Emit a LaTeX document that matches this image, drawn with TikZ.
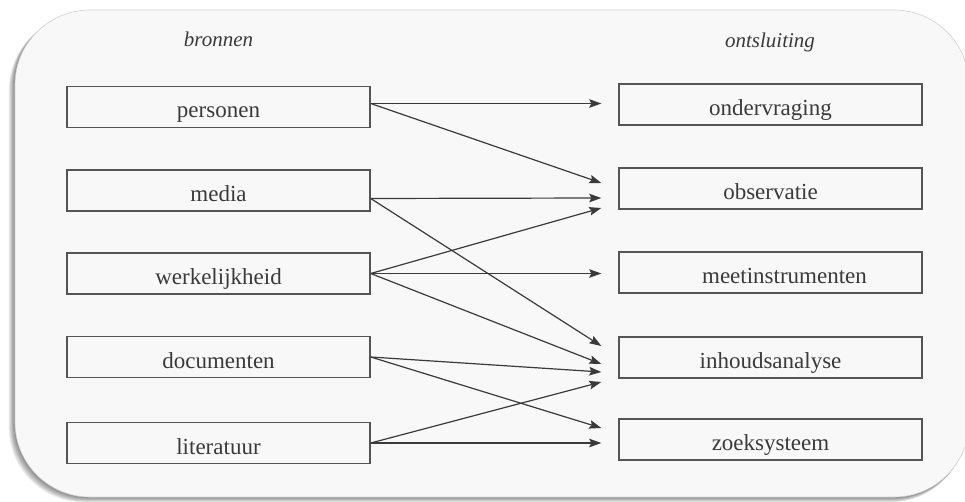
\documentclass[tikz,border=0pt]{standalone}
\usepackage{fontspec}
\setmainfont{Liberation Serif}
\usetikzlibrary{arrows.meta,calc}

\definecolor{panelfill}{HTML}{F8F8F8}
\definecolor{ink}{HTML}{3A3A3A}
\definecolor{boxline}{HTML}{555555}

\tikzset{
  srcbox/.style={draw=boxline, line width=1.4pt, minimum width=303pt, minimum height=41pt,
                 inner sep=0pt, text height=24pt, text depth=2pt,
                 text=ink, font=\fontsize{23}{27}\selectfont},
  headlabel/.style={text=ink, font=\fontsize{21}{25}\selectfont\itshape, inner sep=0pt},
  flow/.style={draw=ink, line width=1.2pt,
               -{Stealth[length=12pt,width=8.5pt,inset=2pt]}},
}

\begin{document}
\begin{tikzpicture}[x=1pt,y=-1pt]
  \useasboundingbox (0,0) rectangle (965,502);
  \fill[white] (0,0) rectangle (965,502);

  % soft shadow under the panel, offset to the lower left
  \foreach \k in {1,...,9}{
    \fill[black, opacity=0.06, rounded corners=75pt]
      ({15-0.7*\k},{10+0.6*\k}) rectangle ({969-0.4*\k},{497+0.6*\k});
  }
  % panel
  \fill[panelfill, rounded corners=75pt] (15,10) rectangle (969,497);
  \draw[gray!35, line width=0.6pt, rounded corners=75pt] (15,10) rectangle (969,497);

  % column headings
  \node[headlabel] (hsrc) at (218.5,39) {bronnen};
  \node[headlabel] (hout) at (770,42) {ontsluiting};

  % sources
  \node[srcbox] (per) at (218.5,107) {personen};
  \node[srcbox] (med) at (218.5,190.5) {media};
  \node[srcbox] (wer) at (218.5,273.5) {werkelijkheid};
  \node[srcbox] (doc) at (218.5,357) {documenten};
  \node[srcbox] (lit) at (218.5,443) {literatuur};

  % access methods
  \node[srcbox] (ond) at (770.5,104.5) {ondervraging};
  \node[srcbox] (obs) at (770.5,188.5) {observatie};
  \node[srcbox] (mee) at (770.5,272.5) {\hspace*{28pt}meetinstrumenten};
  \node[srcbox] (inh) at (770.5,357.5) {inhoudsanalyse};
  \node[srcbox] (zoe) at (770.5,439.5) {zoeksysteem};

  % start points on the right edges of the sources
  \coordinate (sPer) at ($(per.east)+(0,-3.5)$);
  \coordinate (sMed) at ($(med.east)+(0,8)$);
  \coordinate (sWer) at ($(wer.east)+(0,0)$);
  \coordinate (sDoc) at ($(doc.east)+(0,0)$);
  \coordinate (sLit) at ($(lit.east)+(0,0)$);

  % end points just before the access methods
  \coordinate (eOnd)  at ($(ond.west)+(-17,-1)$);
  \coordinate (eObs1) at ($(obs.west)+(-17,-5.5)$);
  \coordinate (eObs2) at ($(obs.west)+(-17,9.5)$);
  \coordinate (eObs3) at ($(obs.west)+(-17,19.5)$);
  \coordinate (eMee)  at ($(mee.west)+(-17,1)$);
  \coordinate (eInh1) at ($(inh.west)+(-17,-11.5)$);
  \coordinate (eInh2) at ($(inh.west)+(-17,6.5)$);
  \coordinate (eInh3) at ($(inh.west)+(-17,14.5)$);
  \coordinate (eInh4) at ($(inh.west)+(-17,24.5)$);
  \coordinate (eZoe1) at ($(zoe.west)+(-17,-11.5)$);
  \coordinate (eZoe2) at ($(zoe.west)+(-17,3.5)$);

  % links
  \draw[flow] (sPer) -- (eOnd);
  \draw[flow] (sPer) -- (eObs1);
  \draw[flow] (sMed) -- (eObs2);
  \draw[flow] (sMed) -- (eInh1);
  \draw[flow] (sWer) -- (eObs3);
  \draw[flow] (sWer) -- (eMee);
  \draw[flow] (sWer) -- (eInh2);
  \draw[flow] (sDoc) -- (eInh3);
  \draw[flow] (sDoc) -- (eZoe1);
  \draw[flow] (sLit) -- (eInh4);
  \draw[flow] (sLit) -- (eZoe2);
\end{tikzpicture}
\end{document}
